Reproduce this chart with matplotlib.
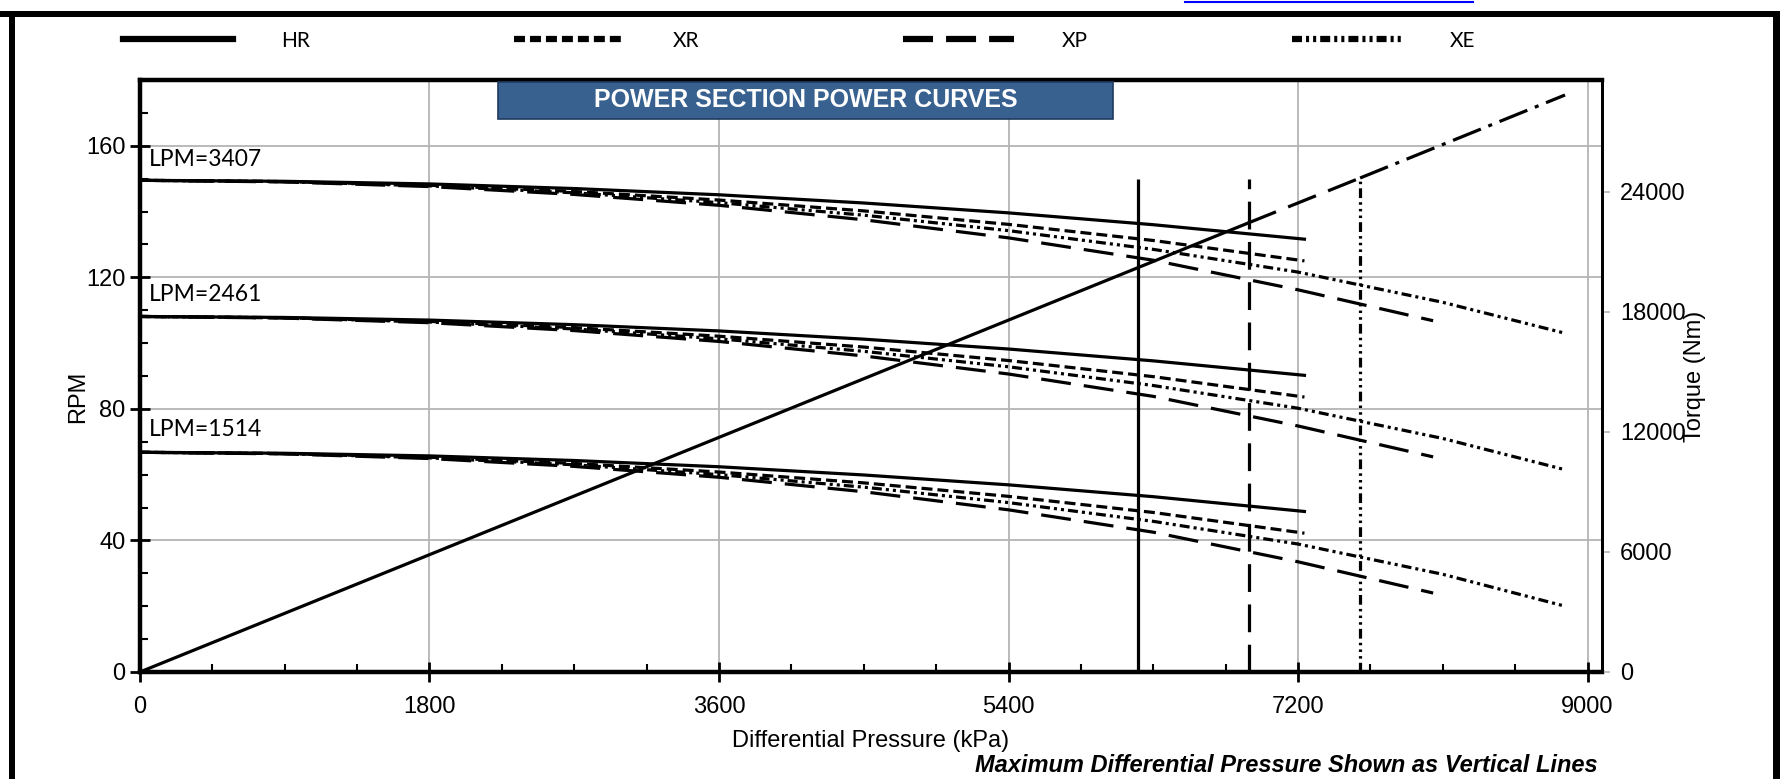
import numpy as np
import matplotlib
matplotlib.use("Agg")
import matplotlib.pyplot as plt
from matplotlib.lines import Line2D
from matplotlib.patches import Rectangle

plt.rcParams['font.family'] = ['Liberation Sans', 'DejaVu Sans']
plt.rcParams['lines.scale_dashes'] = False

# ---------------- datos ----------------
# caudales (etiquetas) y posicion de la etiqueta en RPM
lpm_labels = ['LPM=3407', 'LPM=2461', 'LPM=1514']
lpm_label_rpm = [155.7, 114.7, 73.6]

# presion diferencial (kPa) de cada curva
x_hr = [0, 900, 1800, 2700, 3600, 4500, 5400, 6300, 7240]
x_xr = [0, 900, 1800, 2700, 3600, 4500, 5400, 6300, 7240]
x_xp = [0, 900, 1800, 2700, 3600, 4500, 5400, 6300, 7200, 8040]
x_xe = [0, 900, 1800, 2700, 3600, 4500, 5400, 6300, 7200, 8100, 8860]

# RPM, una lista por caudal (3407, 2461, 1514)
rpm_hr = [
    [149.5, 149.2, 148.4, 147.0, 145.1, 142.6, 139.6, 136.0, 131.6],
    [108.1, 107.8, 107.0, 105.6, 103.7, 101.2, 98.2, 94.6, 90.2],
    [66.8, 66.5, 65.7, 64.3, 62.4, 59.9, 56.9, 53.3, 48.8],
]
rpm_xr = [
    [149.5, 149.1, 148.0, 146.1, 143.5, 140.2, 136.1, 131.2, 125.0],
    [108.1, 107.7, 106.6, 104.7, 102.1, 98.8, 94.7, 89.8, 83.6],
    [66.8, 66.4, 65.3, 63.4, 60.8, 57.5, 53.4, 48.5, 42.2],
]
rpm_xp = [
    [149.5, 149.0, 147.6, 145.2, 141.9, 137.5, 132.0, 125.2, 116.2, 106.8],
    [108.1, 107.6, 106.2, 103.8, 100.5, 96.1, 90.6, 83.8, 74.8, 65.4],
    [66.8, 66.3, 64.9, 62.5, 59.2, 54.8, 49.3, 42.5, 33.5, 24.0],
]
rpm_xe = [
    [149.5, 149.1, 147.8, 145.7, 142.7, 138.9, 134.2, 128.5, 121.6, 112.4, 103.0],
    [108.1, 107.7, 106.4, 104.3, 101.3, 97.5, 92.8, 87.1, 80.2, 71.0, 61.5],
    [66.8, 66.4, 65.1, 63.0, 60.0, 56.2, 51.5, 45.8, 38.9, 29.7, 20.0],
]

# par (Nm) frente a presion: tramo continuo, tramo XP y tramo XE
torque_x = [0, 6890, 7586, 8860]
torque_nm = [0, 22450, 24700, 28850]

# presion diferencial maxima (lineas verticales) y su altura en RPM
pmax_hr = 6206
pmax_xp = 6896
pmax_xe = 7586
pmax_top_rpm = 150

motores = ['HR', 'XR', 'XP', 'XE']

# ---------------- estilos ----------------
LW = 2.3
estilo = {
    'HR': dict(linestyle='-'),
    'XR': dict(linestyle=(0, (7.9, 3.6))),
    'XP': dict(linestyle=(0, (21.6, 9.4))),
    'XE': dict(linestyle=(0, (7.2, 2.9, 2.2, 2.9, 2.2, 2.9))),
}

fig = plt.figure(figsize=(17.81, 7.79), dpi=100)
ax = fig.add_axes([0.0786, 0.1374, 0.8209, 0.7599])
ax2 = ax.twinx()

# Curvas de RPM
for xs, curvas, m in [(x_hr, rpm_hr, 'HR'), (x_xr, rpm_xr, 'XR'),
                      (x_xp, rpm_xp, 'XP'), (x_xe, rpm_xe, 'XE')]:
    for ys in curvas:
        ax.plot(xs, ys, color='black', linewidth=LW, zorder=4, **estilo[m])

# Lineas verticales de presion maxima
ax.vlines(pmax_hr, 0, pmax_top_rpm, colors='black', linewidth=LW, zorder=4)
ax.vlines(pmax_xp, 0, pmax_top_rpm, colors='black', linewidth=LW,
          linestyles=[(0, (20, 9))], zorder=4)
ax.vlines(pmax_xe, 0, pmax_top_rpm, colors='black', linewidth=LW,
          linestyles=[(0, (7, 3, 1.8, 3, 1.8, 3, 1.8, 3))], zorder=4)

# Linea de par (eje derecho)
ax2.plot(torque_x[0:2], torque_nm[0:2], color='black', linewidth=LW, zorder=4)
ax2.plot(torque_x[1:3], torque_nm[1:3], color='black', linewidth=LW,
         linestyle=(0, (21.6, 9.4)), zorder=4)
ax2.plot(torque_x[2:4], torque_nm[2:4], color='black', linewidth=LW,
         linestyle=(0, (21.6, 5.8, 2.9, 5.8)), zorder=4)

# Etiquetas de caudal
for txt, yv in zip(lpm_labels, lpm_label_rpm):
    ax.text(55, yv, txt, fontsize=16.5, family=['Lato', 'DejaVu Sans'],
            va='center', ha='left', zorder=5)

# Ejes
ax.set_xlim(0, 9090)
ax.set_ylim(0, 180)
ax2.set_ylim(0, 29600)
ax.set_xticks([0, 1800, 3600, 5400, 7200, 9000])
ax.set_xticks(np.arange(0, 9001, 450), minor=True)
ax.set_yticks([0, 40, 80, 120, 160])
ax.set_yticks(np.arange(0, 181, 10), minor=True)
ax2.set_yticks([0, 6000, 12000, 18000, 24000])

ax.grid(True, which='major', color='#b4b4b4', linewidth=1.3, zorder=0)
ax.set_axisbelow(True)

ax.tick_params(axis='both', which='major', direction='inout', length=14,
               width=2, labelsize=17, color='black')
ax.tick_params(axis='x', which='major', pad=10)
ax.tick_params(axis='both', which='minor', direction='in', length=6,
               width=1.5, color='black')
ax2.tick_params(axis='y', which='major', direction='out', length=6, width=1.2,
                color='#b4b4b4', labelsize=17, pad=7)

for s in ['left', 'bottom', 'top']:
    ax.spines[s].set_linewidth(3.2)
ax.spines['right'].set_linewidth(2.0)
for s in ['left', 'bottom', 'top']:
    ax2.spines[s].set_visible(False)
ax2.spines['right'].set_linewidth(2.0)

ax.set_xlabel('Differential Pressure (kPa)', fontsize=17, labelpad=9)
ax.set_ylabel('RPM', fontsize=17)
ax.yaxis.set_label_coords(-0.035, 0.465)
ax2.set_ylabel('Torque (Nm)', fontsize=17, labelpad=-1)

# Titulo en recuadro azul
ax.add_patch(Rectangle((0.245, 0.934), 0.4205, 0.063, transform=ax.transAxes,
                       facecolor='#386190', edgecolor='#1f3a5f', linewidth=1.2,
                       zorder=6, clip_on=False))
ax.text(0.4555, 0.9655, 'POWER SECTION POWER CURVES', transform=ax.transAxes,
        color='white', fontsize=18, fontweight='bold', ha='center', va='center',
        zorder=7)

# Nota inferior
fig.text(0.897, 0.002, 'Maximum Differential Pressure Shown as Vertical Lines',
         fontsize=17, fontweight='bold', style='italic', ha='right', va='bottom')

# Leyenda superior
handles = [Line2D([], [], color='black', linewidth=4.5, **estilo[m]) for m in motores]
fig.legend(handles, motores, loc='center left', bbox_to_anchor=(0.0585, 0.948),
           ncol=4, frameon=False, handlelength=5.3,
           handletextpad=2.3, columnspacing=9.8,
           prop={'family': ['Lato', 'DejaVu Sans'], 'size': 15})

# Marco de la pagina
fig.add_artist(Rectangle((0, 1 - 17 / 779), 1, 6 / 779, transform=fig.transFigure,
                         facecolor='black', edgecolor='none'))
fig.add_artist(Rectangle((9 / 1781, 0), 6 / 1781, 1 - 11 / 779,
                         transform=fig.transFigure, facecolor='black', edgecolor='none'))
fig.add_artist(Rectangle((1773 / 1781, 0), 8 / 1781, 1 - 11 / 779,
                         transform=fig.transFigure, facecolor='black', edgecolor='none'))
fig.add_artist(Line2D([1185 / 1781, 1473 / 1781], [1 - 1.5 / 779, 1 - 1.5 / 779],
                      transform=fig.transFigure, color='#0000ff', linewidth=1.5))

fig.savefig('out.png', dpi=100, facecolor='white')
